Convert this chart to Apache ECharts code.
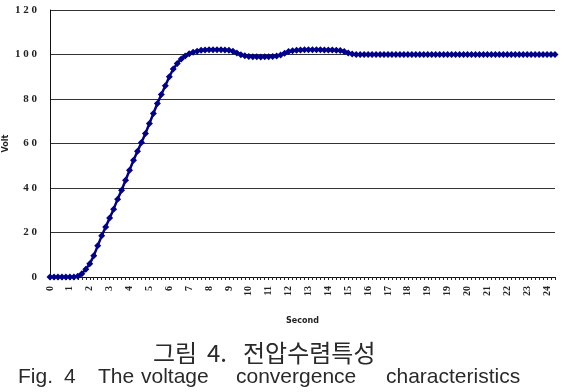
<!DOCTYPE html>
<html><head><meta charset="utf-8">
<script src="https://cdn.jsdelivr.net/npm/echarts@6/dist/echarts.min.js"></script>
<style>html,body{margin:0;padding:0;background:#fff}#c{width:567px;height:392px}</style>
</head><body><div id="c"></div>
<script>
// Tick labels printed under every 5th sample (note the repeated "19" as in the source)
const tickLabels = ['0','1','2','3','4','5','6','7','8','9','10','11','12','13','14','15','16','17','18','19','19','20','21','22','23','24'];
const yTicks = [0, 20, 40, 60, 80, 100, 120];
// Voltage samples, one per sample position
const voltValues = [
  0, 0, 0, 0, 0, 0, 0, 0.3, 1.5, 3.5,
  6, 9.5, 14, 18.5, 22.5, 26.5, 30.5, 35, 39, 43.5,
  48, 52.5, 56.5, 60.5, 64.5, 69, 73.5, 78, 82, 86,
  90, 93.5, 96, 98, 99.3, 100.3, 101, 101.5, 101.9, 102,
  102.1, 102.1, 102.1, 102.1, 102, 101.9, 101.5, 100.7, 99.9, 99.4,
  99.1, 99, 99, 98.9, 99, 99, 99.1, 99.3, 99.8, 100.6,
  101.3, 101.7, 101.9, 102, 102.1, 102.1, 102.1, 102.1, 102.1, 102,
  102, 102, 101.9, 101.8, 101.4, 100.7, 100.2, 100, 100, 100,
  100, 100, 100, 100, 100, 100, 100, 100, 100, 100,
  100, 100, 100, 100, 100, 100, 100, 100, 100, 100,
  100, 100, 100, 100, 100, 100, 100, 100, 100, 100,
  100, 100, 100, 100, 100, 100, 100, 100, 100, 100,
  100, 100, 100, 100, 100, 100, 100, 100
];
const samplesPerLabel = 5;
const categories = voltValues.map((_, i) => String(i));

const chart = echarts.init(document.getElementById('c'), null, {renderer: 'canvas'});
const navy = '#00008b';
const capFont = '21px "Liberation Sans"';
const krFont = '24px "Noto Sans CJK KR"';
const capColor = '#2a2a2a';
const option = {
  animation: false,
  backgroundColor: '#fff',
  grid: {left: 50, right: 12, top: 10, bottom: 115, containLabel: false, outerBoundsMode: 'none'},
  xAxis: {
    type: 'category',
    data: categories,
    boundaryGap: false,
    name: 'Second',
    nameLocation: 'middle',
    nameGap: 40,
    nameMoveOverlap: false,
    nameTextStyle: {fontSize: 8, fontWeight: 'bold', color: '#222', fontFamily: 'DejaVu Sans'},
    axisLine: {lineStyle: {color: '#111', width: 1}},
    axisTick: {show: true, interval: 0, length: 3, lineStyle: {color: '#222'}},
    axisLabel: {
      interval: samplesPerLabel - 1,
      rotate: 90,
      margin: 9,
      fontSize: 10,
      fontFamily: 'Liberation Serif',
      fontWeight: 'bold',
      color: '#222',
      formatter: (v, i) => (i % samplesPerLabel === 0 ? tickLabels[i / samplesPerLabel] : '')
    },
    splitLine: {show: false}
  },
  yAxis: {
    type: 'value',
    min: yTicks[0],
    max: yTicks[yTicks.length - 1],
    interval: yTicks[1] - yTicks[0],
    name: 'Volt',
    nameLocation: 'middle',
    nameGap: 40,
    nameMoveOverlap: false,
    nameRotate: 90,
    nameTextStyle: {fontSize: 8, fontWeight: 'bold', color: '#222', fontFamily: 'DejaVu Sans'},
    axisLine: {show: true, lineStyle: {color: '#111', width: 1}},
    axisTick: {show: false},
    axisLabel: {
      margin: 13,
      fontSize: 11,
      fontFamily: 'Liberation Serif',
      fontWeight: 'bold',
      color: '#222',
      formatter: v => String(v).split('').join(' ')
    },
    splitLine: {show: true, lineStyle: {color: '#333', width: 1}}
  },
  series: [{
    type: 'line',
    data: voltValues,
    symbol: 'diamond',
    symbolSize: 7,
    showSymbol: true,
    showAllSymbol: true,
    itemStyle: {color: navy},
    lineStyle: {color: navy, width: 2.5},
    z: 5
  }],
  graphic: [
    {type: 'text', x: 153, y: 353, style: {text: '그림', font: krFont, fill: capColor, verticalAlign: 'middle'}},
    {type: 'text', x: 207, y: 353, style: {text: '4.', font: krFont, fill: capColor, verticalAlign: 'middle'}},
    {type: 'text', x: 243, y: 353, style: {text: '전압수렴특성', font: krFont, fill: capColor, verticalAlign: 'middle'}},
    {type: 'text', x: 18, y: 377, style: {text: 'Fig.', font: capFont, fill: capColor, verticalAlign: 'middle'}},
    {type: 'text', x: 64, y: 377, style: {text: '4', font: capFont, fill: capColor, verticalAlign: 'middle'}},
    {type: 'text', x: 98, y: 377, style: {text: 'The', font: capFont, fill: capColor, verticalAlign: 'middle'}},
    {type: 'text', x: 141, y: 377, style: {text: 'voltage', font: capFont, fill: capColor, verticalAlign: 'middle'}},
    {type: 'text', x: 236, y: 377, style: {text: 'convergence', font: capFont, fill: capColor, verticalAlign: 'middle'}},
    {type: 'text', x: 386, y: 377, style: {text: 'characteristics', font: capFont, fill: capColor, verticalAlign: 'middle'}}
  ]
};
chart.setOption(option);
</script>
</body></html>
